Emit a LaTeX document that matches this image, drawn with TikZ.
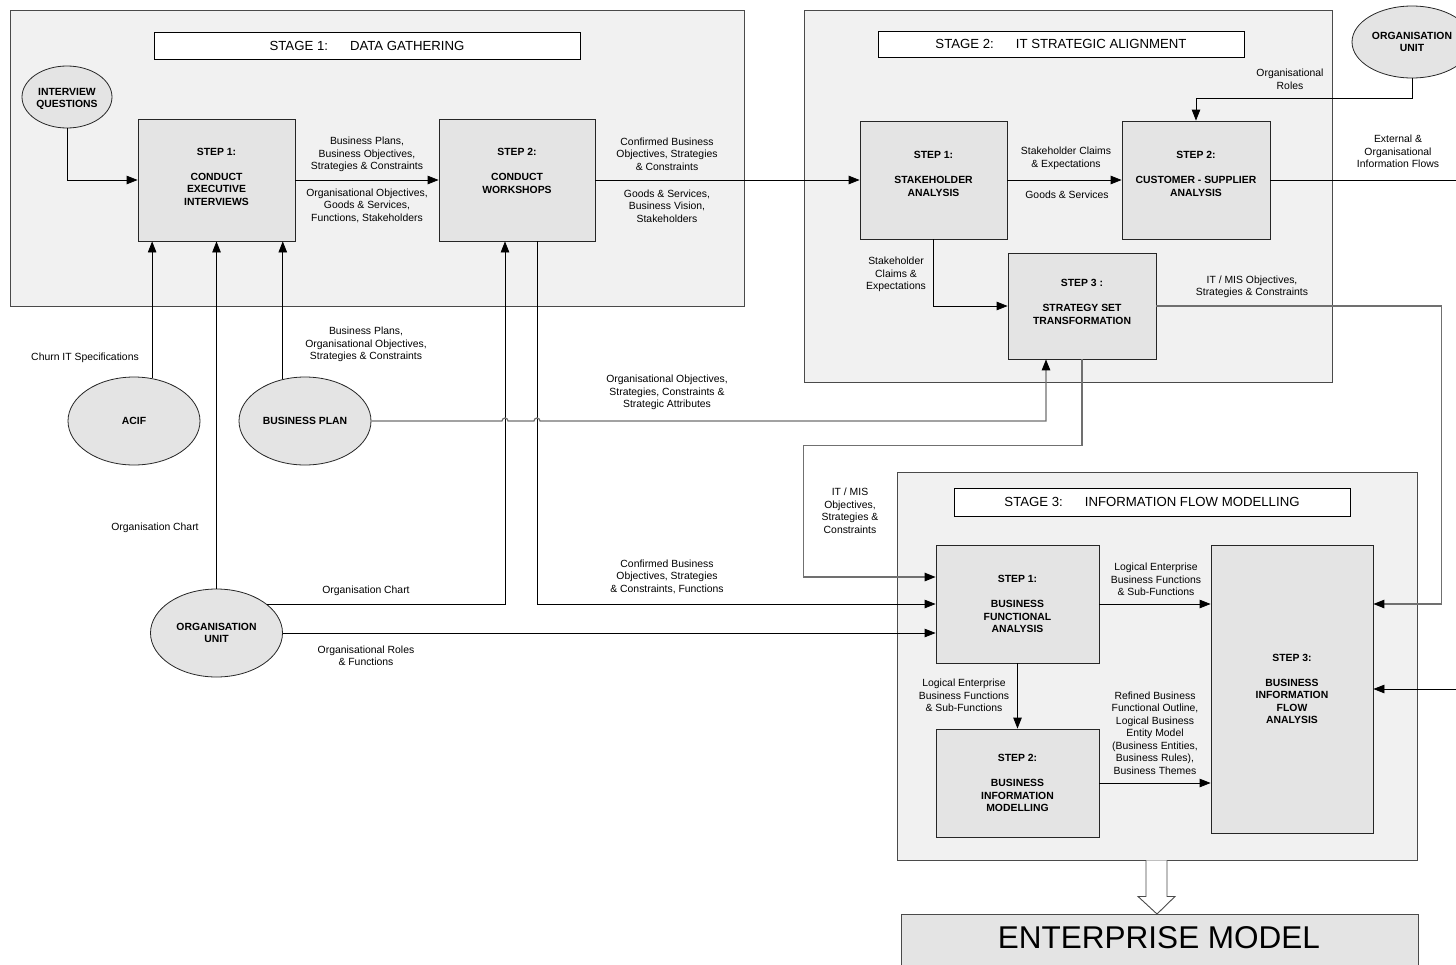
\documentclass[tikz,border=0pt]{standalone}
\usepackage{fontspec}
\setmainfont{Liberation Sans}
\usetikzlibrary{shapes.geometric,arrows.meta,calc}
\definecolor{stagefill}{HTML}{F1F1F1}
\definecolor{stepfill}{HTML}{E4E4E4}
\definecolor{framegray}{HTML}{4A4A4A}
\definecolor{linegray}{HTML}{707070}
\begin{document}
\begin{tikzpicture}[x=1pt,y=-1pt,
  stagebox/.style={draw=framegray,line width=0.9pt,fill=stagefill,inner sep=0pt},
  titlebox/.style={draw=black,line width=0.8pt,fill=white,inner sep=0pt,
    font=\fontsize{13.2}{15}\selectfont},
  stepbox/.style={draw=black!85,line width=0.8pt,fill=stepfill,align=center,inner sep=0pt,
    font=\bfseries\fontsize{10.4}{12.5}\selectfont},
  source/.style={ellipse,draw=black!85,line width=0.8pt,fill=stepfill,align=center,inner sep=0pt,
    font=\bfseries\fontsize{10.4}{12.5}\selectfont},
  lbl/.style={align=center,inner sep=0pt,font=\fontsize{10.4}{12.5}\selectfont},
  flow/.style={draw=black,line width=0.8pt},
  grayflow/.style={draw=linegray,line width=1.2pt},
  tip/.style={-{Triangle[length=11pt,width=8.5pt,color=black]}},
]
\path[use as bounding box] (0,0) rectangle (1456,964);
\clip (0,0) rectangle (1456,964);

% ---------- stage frames and titles ----------
\node[stagebox,minimum width=734,minimum height=296] (st1) at (377,158) {};
\node[stagebox,minimum width=528,minimum height=372] (st2) at (1068,196) {};
\node[stagebox,minimum width=520,minimum height=388] (st3) at (1157,666) {};

\node[titlebox,minimum width=426,minimum height=27] (ti1) at (367,45.5) {STAGE 1:\hspace{22pt}DATA GATHERING};
\node[titlebox,minimum width=366,minimum height=26] (ti2) at (1061,44) {STAGE 2:\hspace{22pt}IT STRATEGIC ALIGNMENT};
\node[titlebox,minimum width=396,minimum height=28] (ti3) at (1152,502) {STAGE 3:\hspace{22pt}INFORMATION FLOW MODELLING};

% ---------- stage 1 ----------
\node[source,minimum width=90,minimum height=62] (iq) at (67,97) {\rule{0pt}{11pt}INTERVIEW\\QUESTIONS};
\node[stepbox,minimum width=157,minimum height=122] (s1) at (216.5,180) {STEP 1:\\[12.5pt]CONDUCT\\EXECUTIVE\\INTERVIEWS\\[-6pt]};
\node[stepbox,minimum width=156,minimum height=122] (s2) at (517,180) {STEP 2:\\[12.5pt]CONDUCT\\WORKSHOPS\\[6pt]};

% ---------- stage 2 ----------
\node[stepbox,minimum width=147,minimum height=118] (t1) at (933.5,180) {STEP 1:\\[12.5pt]STAKEHOLDER\\ANALYSIS\\[0pt]};
\node[stepbox,minimum width=148,minimum height=118] (t2) at (1196,180) {STEP 2:\\[12.5pt]CUSTOMER - SUPPLIER\\ANALYSIS\\[0pt]};
\node[stepbox,minimum width=148,minimum height=106] (t3) at (1082,306) {STEP 3 :\\[12.5pt]STRATEGY SET\\TRANSFORMATION\\[-4pt]};
\node[source,minimum width=120,minimum height=72] (ou2) at (1412,42) {ORGANISATION\\UNIT};

% ---------- external sources ----------
\node[source,minimum width=132,minimum height=88] (acif) at (134,421) {ACIF};
\node[source,minimum width=132,minimum height=88] (bp) at (305,421) {BUSINESS PLAN};
\node[source,minimum width=132,minimum height=88] (ou1) at (216.5,633) {ORGANISATION\\UNIT};

% ---------- stage 3 ----------
\node[stepbox,minimum width=163,minimum height=118] (u1) at (1017.5,604) {STEP 1:\\[12.5pt]BUSINESS\\FUNCTIONAL\\ANALYSIS};
\node[stepbox,minimum width=163,minimum height=108] (u2) at (1017.5,783) {STEP 2:\\[12.5pt]BUSINESS\\INFORMATION\\MODELLING};
\node[stepbox,minimum width=162,minimum height=288] (u3) at (1292,689) {STEP 3:\\[12.5pt]BUSINESS\\INFORMATION\\FLOW\\ANALYSIS};

% ---------- result ----------
\node[draw=framegray,line width=0.9pt,fill=stepfill,minimum width=517,minimum height=80,anchor=north,inner sep=0pt] (em) at (1159.5,914) {};
\node[inner sep=0pt,font=\fontsize{31.5}{36}\selectfont] (emtext) at (1159,938) {ENTERPRISE MODEL};

\coordinate (rimA) at (1460,180);
\coordinate (rimB) at (1460,689);

% ---------- connectors, stage 1 ----------
\draw[flow,tip] (iq.south) |- (s1.west);
\draw[flow,tip] (s1.east) -- (s2.west);
\draw[flow,tip] (s2.east) -- (t1.west);
\draw[flow,tip] (acif.67) -- (acif.67 |- s1.south);
\draw[flow,tip] (ou1.north) -- (ou1.north |- s1.south);
\draw[flow,tip] (bp.118) -- (bp.118 |- s1.south);
\draw[flow,tip] (ou1.30) -| ($(s2.south)+(-12,0)$);
\draw[flow,tip] ($(s2.south)+(20,0)$) |- (u1.west);
\draw[flow,tip] (ou1.east) -- ($(u1.west)+(0,29)$);
\draw[grayflow,tip] (bp.east) -- ($(s2.south |- bp.east)+(-15,0)$) arc(180:360:3)
   -- ($(s2.south |- bp.east)+(17,0)$) arc(180:360:3) -| ($(t3.south)+(-36,0)$);

% ---------- connectors, stage 2 ----------
\draw[flow,tip] (t1.east) -- (t2.west);
\draw[flow] (t2.east) -- (rimA);
\draw[flow,tip] (ou2.south) -- ++(0,20) -| (t2.north);
\draw[flow,tip] (t1.south) |- (t3.west);
\draw[grayflow,tip] (t3.east) -| ($(u3.east |- u1.east)+(68,0)$) -- (u3.east |- u1.east);
\draw[grayflow,tip] (t3.south) -- ++(0,86) -| ($(u1.west)+(-132,-27)$) -- ($(u1.west)+(0,-27)$);

% ---------- connectors, stage 3 ----------
\draw[flow,tip] (u1.east) -- (u1.east -| u3.west);
\draw[flow,tip] (u1.south) -- (u2.north);
\draw[flow,tip] (u2.east) -- (u2.east -| u3.west);
\draw[flow,tip] (rimB) -- (u3.east);
\draw[draw=framegray,line width=0.9pt,fill=white] ($(st3.south)+(-11,0)$) -- ++(0,36) -- ++(-8,0)
   -- (st3.south |- em.north) -- ($(st3.south)+(18,36)$) -- ($(st3.south)+(10,36)$) -- ($(st3.south)+(10,0)$);

% ---------- flow labels ----------
\node[lbl] (l1) at (367,154.5) {Business Plans,\\Business Objectives,\\Strategies \& Constraints};
\node[lbl] (l2) at (367,205.5) {Organisational Objectives,\\Goods \& Services,\\Functions, Stakeholders};
\node[lbl] (l3) at (667,154) {Confirmed Business\\Objectives, Strategies\\\& Constraints};
\node[lbl] (l4) at (667,206) {Goods \& Services,\\Business Vision,\\Stakeholders};
\node[lbl] (l5) at (1066,158.5) {Stakeholder Claims\\\& Expectations};
\node[lbl] (l6) at (1067,195) {Goods \& Services};
\node[lbl] (l7) at (1290,79.5) {Organisational\\Roles};
\node[lbl] (l8) at (1398,151.5) {External \&\\Organisational\\Information Flows};
\node[lbl] (l9) at (896,274.5) {Stakeholder\\Claims \&\\Expectations};
\node[lbl] (l10) at (1252,287) {IT / MIS Objectives,\\Strategies \& Constraints};
\node[lbl] (l11) at (85,358) {Churn IT Specifications};
\node[lbl] (l12) at (366,344.5) {Business Plans,\\Organisational Objectives,\\Strategies \& Constraints};
\node[lbl] (l13) at (667,392.5) {Organisational Objectives,\\Strategies, Constraints \&\\Strategic Attributes};
\node[lbl] (l14) at (155,528) {Organisation Chart};
\node[lbl] (l15) at (850,511) {IT / MIS\\Objectives,\\Strategies \&\\Constraints};
\node[lbl] (l16) at (667,576.5) {Confirmed Business\\Objectives, Strategies\\\& Constraints, Functions};
\node[lbl] (l17) at (366,591) {Organisation Chart};
\node[lbl] (l18) at (366,656) {Organisational Roles\\\& Functions};
\node[lbl] (l19) at (1156,579.5) {Logical Enterprise\\Business Functions\\\& Sub-Functions};
\node[lbl] (l20) at (964,695.5) {Logical Enterprise\\Business Functions\\\& Sub-Functions};
\node[lbl] (l21) at (1155,733) {Refined Business\\Functional Outline,\\Logical Business\\Entity Model\\(Business Entities,\\Business Rules),\\Business Themes};
\end{tikzpicture}
\end{document}
